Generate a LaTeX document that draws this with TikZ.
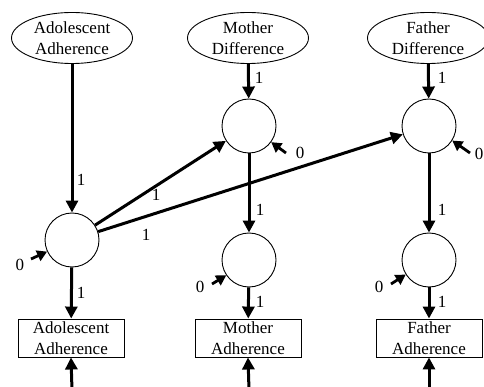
\documentclass[tikz,border=0pt]{standalone}
\usepackage{fontspec}
\setmainfont{Liberation Serif}
\usetikzlibrary{arrows.meta,shapes.geometric}
\tikzset{
  lat/.style={ellipse,draw,line width=0.9pt,minimum width=121pt,minimum height=51pt,inner sep=0pt,align=center,font=\fontsize{17}{21}\selectfont},
  circ/.style={circle,draw,line width=0.9pt,minimum size=54pt,inner sep=0pt},
  obs/.style={rectangle,draw,line width=0.9pt,minimum width=106pt,minimum height=38pt,inner sep=0pt,align=center,font=\fontsize{17}{21}\selectfont},
  path/.style={line width=3pt,-{Triangle[length=12pt,width=12pt]}},
  resid/.style={line width=2.8pt,-{Triangle[length=10pt,width=11pt]}},
  lbl/.style={inner sep=0pt,font=\fontsize{17}{18}\selectfont}
}
\begin{document}
\begin{tikzpicture}[x=1pt,y=-1pt]
\useasboundingbox (0,0) rectangle (484,387);
% latent ellipses
\node[lat] (ea) at (72,38) {Adolescent\\Adherence};
\node[lat] (em) at (248,38) {Mother\\Difference};
\node[lat] (ef) at (428,38) {Father\\Difference};
% circles
\node[circ] (ca) at (72,240) {};
\node[circ] (cmu) at (249,126) {};
\node[circ] (cfu) at (429,126) {};
\node[circ] (cml) at (249,260) {};
\node[circ] (cfl) at (429,260) {};
% boxes
\node[obs] (ba) at (71,338) {Adolescent\\Adherence};
\node[obs] (bm) at (248,338) {Mother\\Adherence};
\node[obs] (bf) at (429,338) {Father\\Adherence};
% bottom error sources
\coordinate (ua) at (72,390);
\coordinate (um) at (249,390);
\coordinate (uf) at (429,390);
% residual tails
\coordinate (ra) at (31,259);
\coordinate (rmu) at (286,153);
\coordinate (rfu) at (470,153);
\coordinate (rml) at (212,284);
\coordinate (rfl) at (391,284);
% paths
\draw[path] (ea) -- (ca);
\draw[path] (em) -- (cmu);
\draw[path] (ef) -- (cfu);
\draw[path] (ca) -- (cmu);
\draw[path] (ca) -- (cfu);
\draw[path] (cmu) -- (cml);
\draw[path] (cfu) -- (cfl);
\draw[path] (ca) -- (ba);
\draw[path] (cml) -- (bm);
\draw[path] (cfl) -- (bf);
\draw[path] (ua) -- (ba.south);
\draw[path] (um) -- (bm.south);
\draw[path] (uf) -- (bf.south);
% residual arrows
\draw[resid] (ra) -- (ca.205);
\draw[resid] (rmu) -- (cmu.324);
\draw[resid] (rfu) -- (cfu.328);
\draw[resid] (rml) -- (cml.214);
\draw[resid] (rfl) -- (cfl.212);
% labels
\node[lbl] (l1) at (81,180) {1};
\node[lbl] (l2) at (81,293) {1};
\node[lbl] (l3) at (156,195) {1};
\node[lbl] (l4) at (146,235) {1};
\node[lbl] (l5) at (20,265) {0};
\node[lbl] (l6) at (259,78) {1};
\node[lbl] (l7) at (300,153) {0};
\node[lbl] (l8) at (260,210) {1};
\node[lbl] (l9) at (200,287) {0};
\node[lbl] (l10) at (260,302) {1};
\node[lbl] (l11) at (442,78) {1};
\node[lbl] (l12) at (479,154) {0};
\node[lbl] (l13) at (442,210) {1};
\node[lbl] (l14) at (379,287) {0};
\node[lbl] (l15) at (442,302) {1};
\end{tikzpicture}
\end{document}
